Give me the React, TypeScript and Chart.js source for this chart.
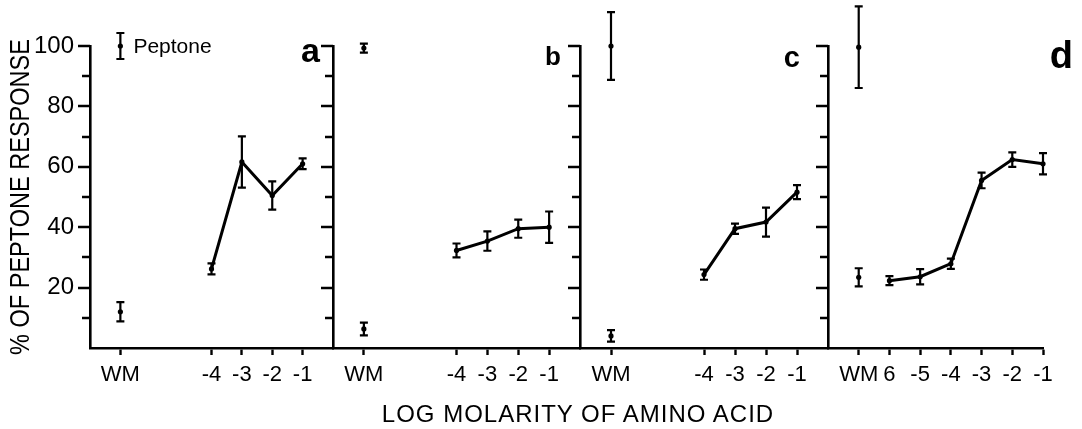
import React, { useEffect, useRef } from "react";
import { Chart, registerables } from "chart.js";

Chart.register(...registerables);

// ---- data ----
const panelLetters = ["a", "b", "c", "d"];
const wmPosition = -7;
const peptoneMean = [100, 99.3, 100, 99.6];
const peptoneErr = [4.3, 1.5, 11.2, 13.5];
const wmMean = [12, 6.3, 4, 23.4];
const wmErr = [3.2, 2.1, 1.9, 3];
const concABC = [-4, -3, -2, -1];
const concD = [-6, -5, -4, -3, -2, -1];
const respA = [26.2, 61.6, 50.5, 61];
const errA = [1.8, 8.5, 4.7, 1.8];
const respB = [32.3, 35.4, 39.5, 40];
const errB = [2.3, 3.2, 3, 5.2];
const respC = [24.3, 39.5, 41.7, 51.6];
const errC = [1.7, 1.7, 4.8, 2.3];
const respD = [22.3, 23.6, 27.9, 55.5, 62.4, 61];
const errD = [1.5, 2.5, 1.7, 2.6, 2.4, 3.5];
const tickValsABC = [-7, -4, -3, -2, -1];
const tickLabelsABC = ["WM", "-4", "-3", "-2", "-1"];
const tickValsD = [-7, -6, -5, -4, -3, -2, -1];
const tickLabelsD = ["WM", "6", "-5", "-4", "-3", "-2", "-1"];
const yLabelValues = [20, 40, 60, 80, 100];
const yTitle = "% OF PEPTONE RESPONSE";
const xTitle = "LOG MOLARITY OF AMINO ACID";
const legendText = "Peptone";

const respAll = [respA, respB, respC, respD];
const errAll = [errA, errB, errC, errD];

// ---- layout (not data) ----
const W = 1082;
const H = 429;
const FONT = "'Liberation Sans', Arial, sans-serif";
const areaLeft = [90, 333, 580, 828];
const areaRight = [333, 580, 828, 1043];
const xMax = [0, 0, 0, -1];
const areaTop = 46;
const areaBottom = 348;
const xAxisH = 40;
const letterStyle = [
  { dx: -13, dy: 16, size: 34 },
  { dx: -19, dy: 19, size: 26 },
  { dx: -28, dy: 21, size: 29 },
  { dx: 30, dy: 22, size: 38 },
];

const errorBarPlugin = {
  id: "errorBars",
  afterDatasetsDraw(chart: any) {
    const ctx = chart.ctx;
    const ys = chart.scales.y;
    ctx.save();
    ctx.strokeStyle = "#000";
    ctx.lineWidth = 2.2;
    chart.data.datasets.forEach((ds: any, i: number) => {
      if (!ds.errors) return;
      const meta = chart.getDatasetMeta(i);
      meta.data.forEach((pt: any, j: number) => {
        const v = ds.data[j].y;
        const e = ds.errors[j];
        const t = ys.getPixelForValue(v + e);
        const b = ys.getPixelForValue(v - e);
        const x = pt.x;
        ctx.beginPath();
        ctx.moveTo(x, t);
        ctx.lineTo(x, b);
        ctx.moveTo(x - 4, t);
        ctx.lineTo(x + 4, t);
        ctx.moveTo(x - 4, b);
        ctx.lineTo(x + 4, b);
        ctx.stroke();
      });
    });
    ctx.restore();
  },
};

const textPlugin = {
  id: "panelText",
  afterDraw(chart: any, _args: any, opts: any) {
    const ctx = chart.ctx;
    const area = chart.chartArea;
    const ys = chart.scales.y;
    ctx.save();
    // y tick marks: long at labelled values, short in between
    ctx.strokeStyle = "#000";
    ctx.lineWidth = 2.4;
    ctx.beginPath();
    ys.ticks.forEach((t: any) => {
      if (t.value === 0) return;
      const py = Math.round(ys.getPixelForValue(t.value));
      const len = yLabelValues.includes(t.value) ? 12 : 8;
      ctx.moveTo(area.left - len, py);
      ctx.lineTo(area.left, py);
    });
    ctx.stroke();
    ctx.fillStyle = "#000";
    if (opts.letter) {
      ctx.font = `bold ${opts.size}px ${FONT}`;
      ctx.textAlign = "right";
      ctx.textBaseline = "alphabetic";
      ctx.fillText(opts.letter, area.right + opts.dx, area.top + opts.dy);
    }
    if (opts.legend) {
      chart.data.datasets.forEach((ds: any, i: number) => {
        if (ds.label !== "Peptone") return;
        const pt = chart.getDatasetMeta(i).data[0];
        ctx.font = `21px ${FONT}`;
        ctx.textAlign = "left";
        ctx.textBaseline = "middle";
        ctx.fillText(opts.legend, pt.x + 13, pt.y + 1);
      });
    }
    if (opts.yTitle) {
      ctx.save();
      ctx.translate(20, (area.top + area.bottom) / 2);
      ctx.rotate(-Math.PI / 2);
      ctx.scale(0.84, 1);
      ctx.font = `28px ${FONT}`;
      ctx.textAlign = "center";
      ctx.textBaseline = "middle";
      ctx.fillText(opts.yTitle, 0, 1);
      ctx.restore();
    }
    ctx.restore();
  },
};

function Panel({ idx }: { idx: number }) {
  const ref = useRef<HTMLCanvasElement>(null);
  useEffect(() => {
    const conc = idx === 3 ? concD : concABC;
    const tickVals = idx === 3 ? tickValsD : tickValsABC;
    const tickLabels = idx === 3 ? tickLabelsD : tickLabelsABC;
    const resp = respAll[idx];
    const errs = errAll[idx];
    const yW = idx === 0 ? 90 : 14;
    const pointStyle = {
      pointRadius: 2.6,
      pointBackgroundColor: "#000",
      pointBorderColor: "#000",
      pointBorderWidth: 0,
    };
    const chart = new Chart(ref.current!, {
      type: "line",
      data: {
        datasets: [
          {
            label: "Amino acid",
            data: conc.map((c, k) => ({ x: c, y: resp[k] })),
            errors: errs,
            borderColor: "#000",
            borderWidth: 3,
            showLine: true,
            clip: false,
            ...pointStyle,
          } as any,
          {
            label: "WM",
            data: [{ x: wmPosition, y: wmMean[idx] }],
            errors: [wmErr[idx]],
            showLine: false,
            clip: false,
            ...pointStyle,
          } as any,
          {
            label: "Peptone",
            data: [{ x: wmPosition, y: peptoneMean[idx] }],
            errors: [peptoneErr[idx]],
            showLine: false,
            clip: false,
            ...pointStyle,
          } as any,
        ],
      },
      options: {
        animation: false,
        responsive: false,
        events: [],
        layout: {
          padding: {
            left: areaLeft[idx] - yW,
            right: W - areaRight[idx],
            top: areaTop,
            bottom: H - areaBottom - xAxisH,
          },
        },
        scales: {
          x: {
            type: "linear",
            min: -8,
            max: xMax[idx],
            afterBuildTicks: (s: any) => {
              s.ticks = tickVals.map((v) => ({ value: v }));
            },
            afterFit: (s: any) => {
              s.height = xAxisH;
            },
            ticks: {
              autoSkip: false,
              maxRotation: 0,
              minRotation: 0,
              color: "#000",
              padding: 7,
              font: { family: FONT, size: 22 },
              callback: (_v: any, i: number) => tickLabels[i],
            },
            grid: {
              drawOnChartArea: false,
              drawTicks: true,
              tickLength: 7,
              tickColor: "#000",
              tickWidth: 2.4,
            },
            border: { display: true, color: "#000", width: 2.6 },
          },
          y: {
            type: "linear",
            min: 0,
            max: 100,
            afterFit: (s: any) => {
              s.width = yW;
            },
            ticks: {
              stepSize: 10,
              autoSkip: false,
              color: "#000",
              padding: 16,
              font: { family: FONT, size: 24 },
              callback: (v: any) =>
                idx === 0 && yLabelValues.includes(Number(v)) ? String(v) : "",
            },
            grid: {
              drawOnChartArea: false,
              drawTicks: false,
            },
            border: { display: true, color: "#000", width: 2.6 },
          },
        },
        plugins: {
          legend: { display: false },
          tooltip: { enabled: false },
          panelText: {
            letter: panelLetters[idx],
            ...letterStyle[idx],
            legend: idx === 0 ? legendText : null,
            yTitle: idx === 0 ? yTitle : null,
          },
        } as any,
      },
      plugins: [errorBarPlugin, textPlugin],
    } as any);
    return () => chart.destroy();
  }, [idx]);
  return (
    <canvas
      ref={ref}
      width={W}
      height={H}
      style={{ position: "absolute", left: 0, top: 0, width: W, height: H }}
    />
  );
}

export default function App() {
  return (
    <div
      style={{
        position: "absolute",
        left: 0,
        top: 0,
        width: W,
        height: H,
        background: "#fff",
        overflow: "hidden",
      }}
    >
      {[0, 1, 2, 3].map((i) => (
        <Panel key={i} idx={i} />
      ))}
      <div
        style={{
          position: "absolute",
          left: 278,
          width: 600,
          top: 402,
          textAlign: "center",
          fontFamily: FONT,
          fontSize: 24,
          lineHeight: "24px",
          letterSpacing: 1,
          color: "#000",
        }}
      >
        {xTitle}
      </div>
    </div>
  );
}
